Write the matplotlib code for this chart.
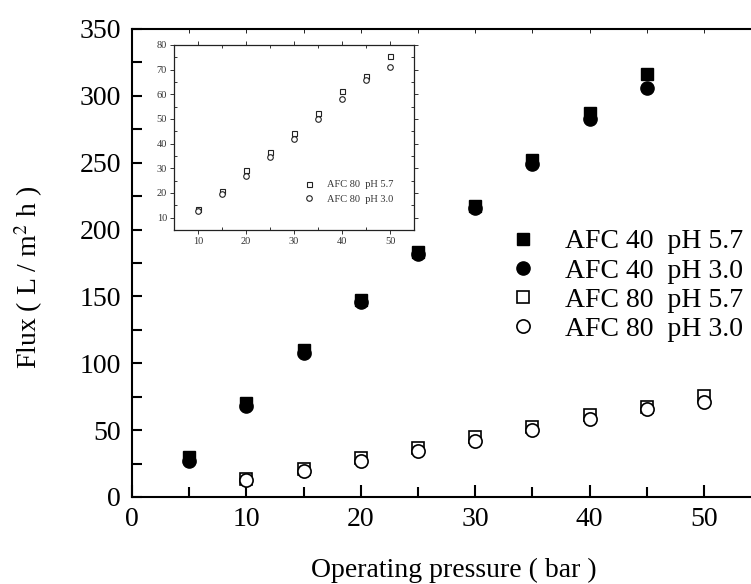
import matplotlib
matplotlib.use("Agg")
import matplotlib.pyplot as plt
from matplotlib.ticker import MultipleLocator

plt.rcParams['font.family'] = ['Liberation Serif', 'DejaVu Serif']
plt.rcParams['mathtext.fontset'] = 'stix'

# AFC 40 data
p40 = [5, 10, 15, 20, 25, 30, 35, 40, 45]
afc40_ph57 = [30, 70, 110, 147, 183, 218, 252, 287, 316]
afc40_ph30 = [27, 68, 108, 146, 182, 216, 249, 283, 306]

# AFC 80 data
p80 = [10, 15, 20, 25, 30, 35, 40, 45, 50]
afc80_ph57 = [13.5, 21, 29.5, 36.5, 44.5, 52.5, 61.5, 67.5, 75.5]
afc80_ph30 = [12.5, 19.5, 27, 34.5, 42, 50, 58, 66, 71]

labels = ["AFC 40  pH 5.7", "AFC 40  pH 3.0", "AFC 80  pH 5.7", "AFC 80  pH 3.0"]
inset_labels = ["AFC 80  pH 5.7", "AFC 80  pH 3.0"]

W, H = 751, 584
fig = plt.figure(figsize=(W / 100, H / 100), dpi=100)

left, right, bottom, top = 132, 751, 497, 29
ax = fig.add_axes([left / W, 1 - bottom / H, (right - left) / W, (bottom - top) / H])
ax.set_xlim(0, 54.1)
ax.set_ylim(0, 350)

ax.plot(p40, afc40_ph57, ls='none', marker='s', ms=8.5, mfc='black', mec='black', label=labels[0])
ax.plot(p40, afc40_ph30, ls='none', marker='o', ms=9.5, mfc='black', mec='black', label=labels[1])
ax.plot(p80, afc80_ph57, ls='none', marker='s', ms=8, mfc='white', mec='black', mew=1.2, label=labels[2])
ax.plot(p80, afc80_ph30, ls='none', marker='o', ms=9.5, mfc='white', mec='black', mew=1.2, label=labels[3])

for s in ['left', 'bottom', 'top']:
    ax.spines[s].set_linewidth(1.5)
ax.spines['right'].set_visible(False)

ax.xaxis.set_major_locator(MultipleLocator(10))
ax.xaxis.set_minor_locator(MultipleLocator(5))
ax.yaxis.set_major_locator(MultipleLocator(50))
ax.yaxis.set_minor_locator(MultipleLocator(25))
ax.tick_params(axis='both', which='both', direction='in', labelsize=20, width=1.5)
ax.tick_params(axis='x', which='major', length=9, pad=7, top=True)
ax.tick_params(axis='x', which='minor', length=7, top=True)
ax.tick_params(axis='y', which='major', length=7, pad=8)
ax.tick_params(axis='y', which='minor', length=7)
for t in ax.xaxis.get_ticklines(minor=False)[1::2] + ax.xaxis.get_ticklines(minor=True)[1::2]:
    t.set_markersize(3)
    t.set_markeredgewidth(0.6)
    t.set_color('#888888')

ax.set_xlabel("Operating pressure ( bar )", fontsize=20)
ax.set_ylabel(r"Flux ( L / m$^2$ h )", fontsize=20)
ax.yaxis.set_label_coords(-0.14, 0.47)
ax.xaxis.label.set_va('center')
ax.xaxis.set_label_coords(0.52, -(570 - bottom) / (bottom - top))

leg = ax.legend(loc='upper left', bbox_to_anchor=((515 - left) / (right - left), 1 - (229 - top) / (bottom - top)),
                frameon=False, fontsize=20, handlelength=0.6, handletextpad=1.2,
                labelspacing=0.13, borderaxespad=0, borderpad=0)

# inset
il, ir, it, ib = 174, 414, 45, 230
ax2 = fig.add_axes([il / W, 1 - ib / H, (ir - il) / W, (ib - it) / H])
ax2.set_xlim(5, 55)
ax2.set_ylim(5, 80)
ax2.plot(p80, afc80_ph57, ls='none', marker='s', ms=3.6, mfc='white', mec='#222222', mew=0.8, label=inset_labels[0])
ax2.plot(p80, afc80_ph30, ls='none', marker='o', ms=4, mfc='white', mec='#222222', mew=0.8, label=inset_labels[1])
ax2.xaxis.set_major_locator(MultipleLocator(10))
ax2.xaxis.set_minor_locator(MultipleLocator(5))
ax2.yaxis.set_major_locator(MultipleLocator(10))
ax2.yaxis.set_minor_locator(MultipleLocator(5))
for s in ax2.spines.values():
    s.set_linewidth(0.9)
    s.set_color('#222222')
ax2.tick_params(axis='both', which='both', labelsize=7.5, labelcolor='#333333', color='#333333', width=0.7)
ax2.tick_params(axis='both', which='major', length=3, direction='out', pad=2)
ax2.tick_params(axis='both', which='minor', length=2, direction='in')
ax2.tick_params(axis='y', which='both', right=True)
ax2.tick_params(axis='x', which='both', top=True)
ax2.legend(loc='upper left', bbox_to_anchor=((306 - il) / (ir - il), 1 - (180 - it) / (ib - it)),
           frameon=False, prop={'size': 7.5}, handlelength=0.6, handletextpad=1.4,
           labelspacing=0.5, borderaxespad=0, borderpad=0, labelcolor='#333333')

fig.savefig("out.png", dpi=100)
